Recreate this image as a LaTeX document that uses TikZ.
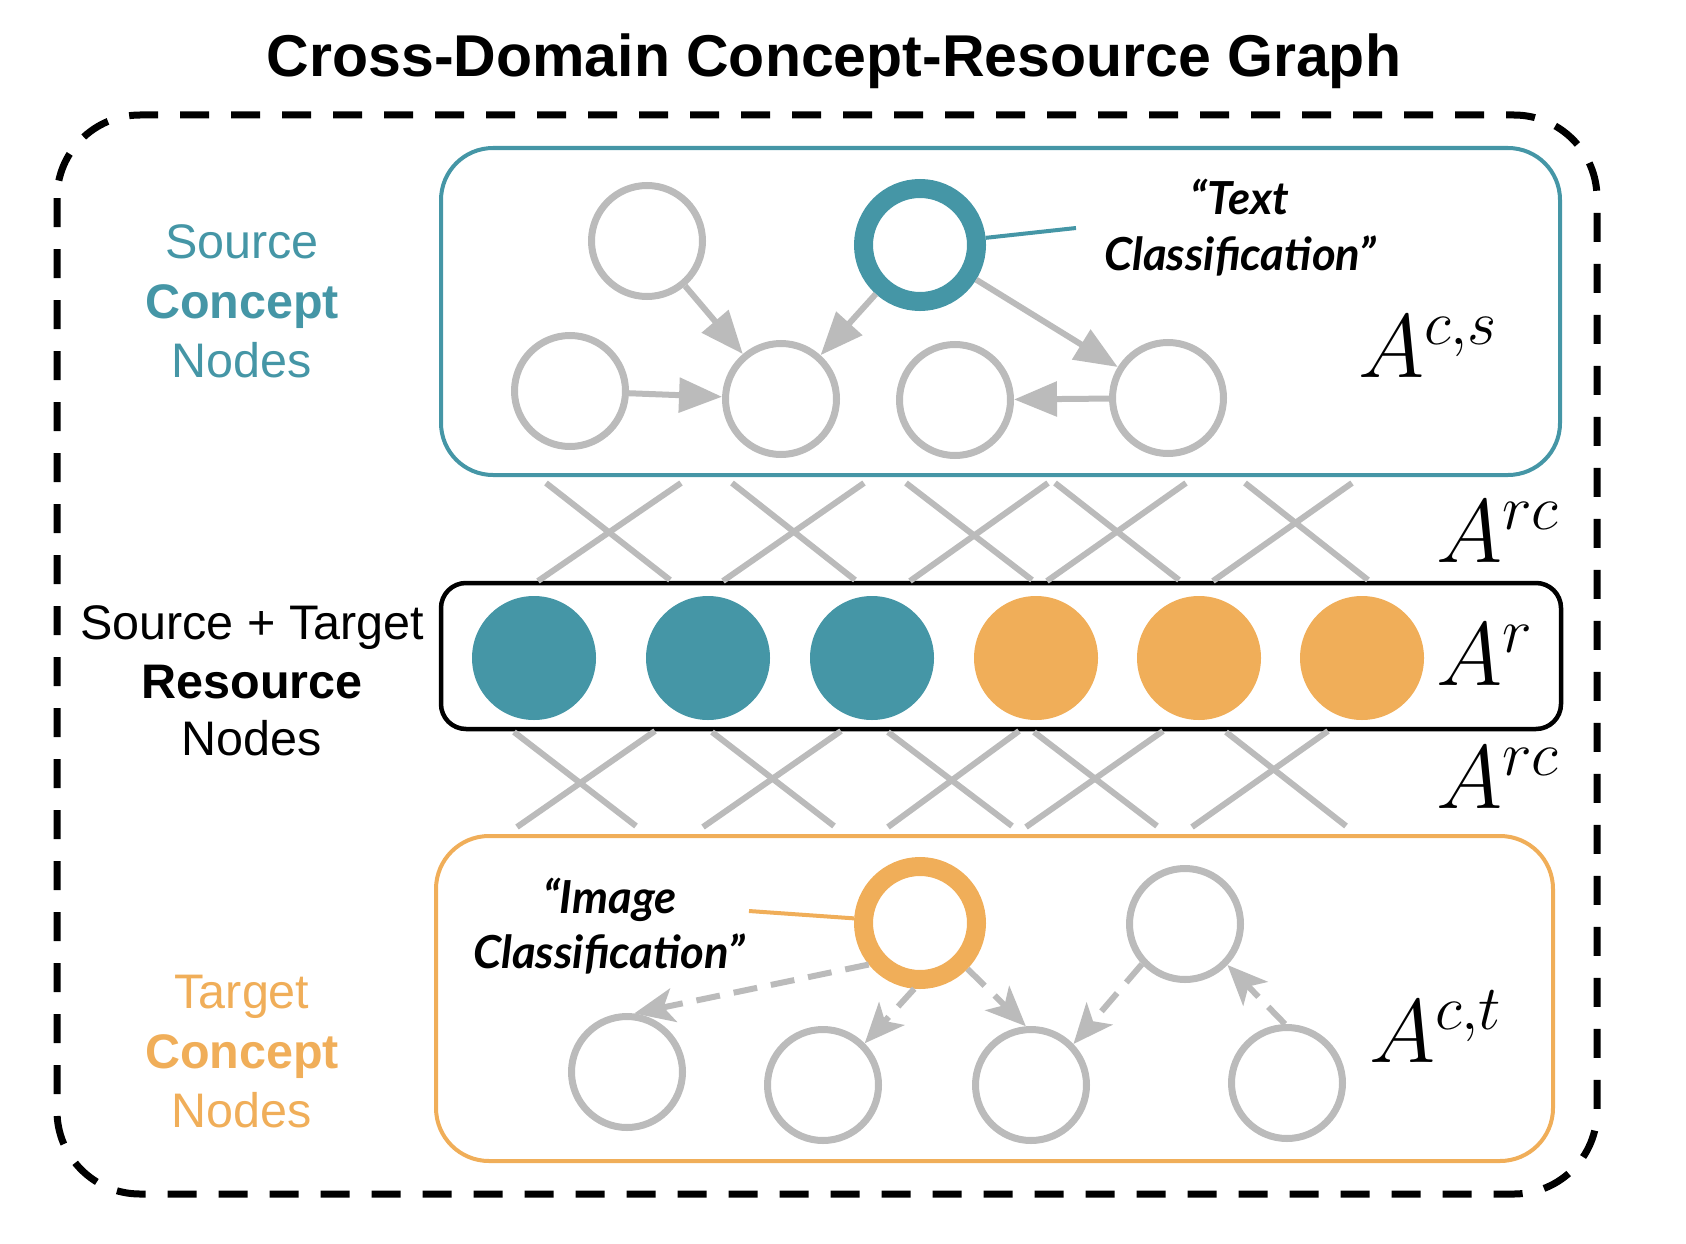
\RequirePackage{fix-cm}
\documentclass[tikz,border=0pt]{standalone}
\usepackage{fontspec}
\setmainfont{Liberation Sans}
\newfontfamily\latof{Lato}
\usetikzlibrary{arrows.meta}
\definecolor{teal1}{HTML}{4596A6}
\definecolor{orange1}{HTML}{F0AE59}
\definecolor{gray1}{HTML}{BBBBBB}
\begin{document}
\begin{tikzpicture}[x=1pt,y=-1pt,
  gnode/.style={circle,draw=gray1,line width=7pt,minimum size=111pt,inner sep=0pt},
  tring/.style={circle,draw=teal1,line width=19pt,minimum size=113pt,inner sep=0pt},
  oring/.style={circle,draw=orange1,line width=19pt,minimum size=113pt,inner sep=0pt},
  rnode/.style={circle,minimum size=124pt,inner sep=0pt,draw=none},
  sarr/.style={draw=gray1,line width=6pt,-{Triangle[length=43pt,width=34pt]}},
  darr/.style={draw=gray1,line width=6pt,dash pattern=on 24pt off 14pt,-{Stealth[length=40pt,width=34pt,inset=10pt]}},
  crossl/.style={draw=gray1,line width=6pt},
  lab/.style={anchor=base,inner sep=0pt,font=\fontsize{48.5}{58}\selectfont},
  blab/.style={anchor=base,inner sep=0pt,font=\fontsize{48.5}{58}\selectfont\bfseries},
  quot/.style={anchor=base,inner sep=0pt,font=\latof\bfseries\itshape\fontsize{45.5}{54}\selectfont},
  mathl/.style={anchor=base west,inner sep=0pt,font=\fontsize{90}{100}\selectfont},
]
\useasboundingbox (0,0) rectangle (1686,1244);

% title
\node[anchor=base,inner sep=0pt,font=\fontsize{59}{70}\selectfont\bfseries] (title) at (834,77) {Cross-Domain Concept-Resource Graph};

% outer dashed box
\draw[line width=7pt,dash pattern=on 29pt off 22pt,rounded corners=83pt] (57,115) rectangle (1597,1194);

% inner boxes
\draw[teal1,line width=4pt,rounded corners=52pt] (441,148) rectangle (1560,475);
\draw[black,line width=4.5pt,rounded corners=25pt] (441,583) rectangle (1561,729);
\draw[orange1,line width=4pt,rounded corners=53pt] (436,836) rectangle (1553,1161);

% left labels
\node[lab,text=teal1] (sl1) at (242,258) {Source};
\node[blab,text=teal1] (sl2) at (242,318) {Concept};
\node[lab,text=teal1] (sl3) at (242,377) {Nodes};
\node[lab] (ml1) at (252,639) {Source + Target};
\node[blab] (ml2) at (252,698) {Resource};
\node[lab] (ml3) at (252,755) {Nodes};
\node[lab,text=orange1] (tl1) at (242,1008) {Target};
\node[blab,text=orange1] (tl2) at (242,1068) {Concept};
\node[lab,text=orange1] (tl3) at (242,1127) {Nodes};

% cross connections
\foreach \a/\b/\c/\d in {546/483/670/580, 732/483/855/580, 906/483/1032/580, 1055/483/1179/580, 1245/483/1368/580,
  681/483/538/581, 864/483/723/581, 1048/483/910/581, 1186/483/1047/581, 1352/483/1213/581,
  514/732/636/826, 712/732/834/826, 888/732/1012/826, 1034/732/1157/826, 1226/732/1346/826,
  655/731/517/827, 841/731/703/827, 1019/731/888/827, 1163/731/1026/827, 1328/731/1192/827}
  \draw[crossl] (\a,\b) -- (\c,\d);

% source concept nodes
\node[gnode] (n1) at (647,241) {};
\node[tring] (n2) at (920,245) {};
\node[gnode] (n3) at (570,391) {};
\node[gnode] (n4) at (781,399) {};
\node[gnode] (n5) at (955,400) {};
\node[gnode] (n6) at (1168,398) {};
\draw[sarr] (n1) -- (n4);
\draw[sarr] (n2) -- (n4);
\draw[sarr] (n2) -- (n6);
\draw[sarr] (n3) -- (n4);
\draw[sarr] (n6) -- (n5);
\coordinate (tlab) at (1076,228);
\draw[teal1,line width=4pt] (n2) -- (tlab);
\node[quot] (tq1) at (1240,214) {“Text};
\node[quot] (tq2) at (1240,270) {Classification”};
\node[mathl] (acs) at (1358,377) {$A^{c,s}$};

% resource nodes
\node[rnode,fill=teal1] (r1) at (534,658) {};
\node[rnode,fill=teal1] (r2) at (708,658) {};
\node[rnode,fill=teal1] (r3) at (872,658) {};
\node[rnode,fill=orange1] (r4) at (1036,658) {};
\node[rnode,fill=orange1] (r5) at (1199,658) {};
\node[rnode,fill=orange1] (r6) at (1362,658) {};
\node[mathl] (arc1) at (1436,562) {$A^{rc}$};
\node[mathl] (ar) at (1436,685) {$A^{r}$};
\node[mathl] (arc2) at (1436,808) {$A^{rc}$};

% target concept nodes
\node[oring] (t0) at (920,923) {};
\node[gnode] (t1) at (1185,924) {};
\node[gnode] (t2) at (627,1072) {};
\node[gnode] (t3) at (823,1085) {};
\node[gnode] (t4) at (1031,1085) {};
\node[gnode] (t5) at (1287,1083) {};
\draw[darr] (t0.219) -- (t2.83);
\draw[darr] (t0.265) -- (t3.45);
\draw[darr] (t0.316) -- (t4.95);
\draw[darr] (t1.223) -- (t4.44);
\draw[darr] (t5.92) -- (t1.316);
\coordinate (ilab) at (749,911);
\draw[orange1,line width=4pt] (ilab) -- (t0);
\node[quot] (iq1) at (610,913) {“Image};
\node[quot] (iq2) at (609,968) {Classification”};
\node[mathl] (act) at (1369,1062) {$A^{c,t}$};
\end{tikzpicture}
\end{document}
